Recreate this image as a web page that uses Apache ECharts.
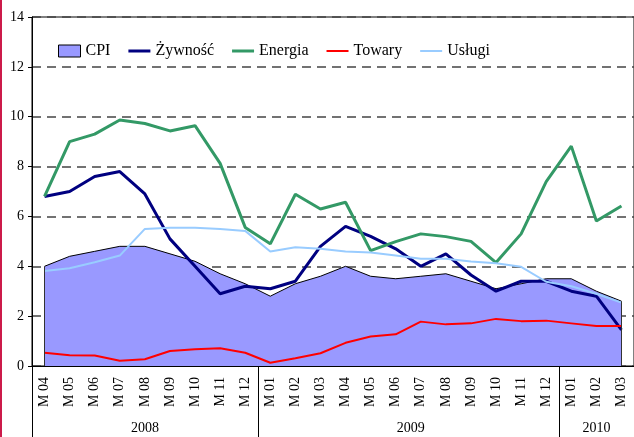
<!DOCTYPE html>
<html>
<head>
<meta charset="utf-8">
<script src="https://cdn.jsdelivr.net/npm/echarts@6/dist/echarts.min.js"></script>
<style>
html, body { margin: 0; padding: 0; background: #fff; }
#main { width: 634px; height: 437px; }
</style>
</head>
<body>
<div id="main"></div>
<script>
// miesiace od 2008 M04 do 2010 M03
const months = ['M04', 'M05', 'M06', 'M07', 'M08', 'M09', 'M10', 'M11', 'M12',
  'M01', 'M02', 'M03', 'M04', 'M05', 'M06', 'M07', 'M08', 'M09', 'M10', 'M11', 'M12',
  'M01', 'M02', 'M03'];
const years = ['2008', '2009', '2010'];
const yearStart = [0, 9, 21];
const yearLen = [9, 12, 3];
const yTicks = [0, 2, 4, 6, 8, 10, 12, 14];

const cpi = [4.0, 4.4, 4.6, 4.8, 4.8, 4.5, 4.2, 3.7, 3.3,
  2.8, 3.3, 3.6, 4.0, 3.6, 3.5, 3.6, 3.7, 3.4, 3.1, 3.3, 3.5,
  3.5, 3.0, 2.6];
const zywnosc = [6.8, 7.0, 7.6, 7.8, 6.9, 5.1, 4.0, 2.9, 3.2,
  3.1, 3.4, 4.8, 5.6, 5.2, 4.7, 4.0, 4.5, 3.65, 3.0, 3.4, 3.4,
  3.0, 2.8, 1.45];
const energia = [6.8, 9.0, 9.3, 9.87, 9.73, 9.43, 9.64, 8.13, 5.56,
  4.9, 6.89, 6.3, 6.57, 4.63, 4.99, 5.3, 5.19, 5.0, 4.15, 5.3, 7.4,
  8.82, 5.82, 6.42];
const towary = [0.53, 0.43, 0.42, 0.21, 0.27, 0.6, 0.67, 0.71, 0.53,
  0.13, 0.31, 0.51, 0.93, 1.18, 1.27, 1.78, 1.67, 1.71, 1.89, 1.8, 1.82,
  1.71, 1.6, 1.6];
const uslugi = [3.81, 3.92, 4.16, 4.43, 5.5, 5.55, 5.55, 5.5, 5.42,
  4.59, 4.76, 4.7, 4.59, 4.55, 4.43, 4.3, 4.3, 4.19, 4.12, 3.98, 3.38,
  3.2, 2.9, 2.54];

const serif = 'Liberation Serif';

// gdzie pokazac etykiete roku (srodek grupy)
const yearLabelAt = {};
yearStart.forEach((s, k) => {
  yearLabelAt[s + Math.floor((yearLen[k] - 1) / 2)] = k;
});

// ikonki legendy - kreska
const thick = 'path://M0,0H22V3H0Z';
const thin = 'path://M0,0H22V2H0Z';

let myChart = echarts.init(document.getElementById('main'));
myChart.setOption({
  animation: false,
  backgroundColor: '#fff',
  graphic: [{
    type: 'rect',
    left: 0, top: 0,
    shape: { width: 2, height: 437 },
    style: { fill: '#cc1a4a' }
  }],
  grid: {
    left: 32, right: -6, top: 17, bottom: 71,
    show: true, borderColor: '#000', borderWidth: 1
  },
  legend: {
    left: 53, top: 38,
    itemWidth: 22, itemHeight: 12, itemGap: 18,
    symbolKeepAspect: true,
    textStyle: { fontFamily: serif, fontSize: 16, color: '#000' },
    data: [
      { name: 'CPI', icon: 'rect', itemStyle: { color: '#9999ff', borderColor: '#000', borderWidth: 1 } },
      { name: 'Żywność', icon: thick },
      { name: 'Energia', icon: thick },
      { name: 'Towary', icon: thin },
      { name: 'Usługi', icon: thin }
    ]
  },
  xAxis: [{
    type: 'category',
    data: months,
    boundaryGap: true,
    axisLine: { lineStyle: { color: '#000', width: 1 } },
    axisTick: { interval: 0, length: 39, lineStyle: { color: '#000' } },
    axisLabel: {
      interval: 0, rotate: 90, margin: 11,
      fontFamily: serif, fontSize: 14, color: '#000',
      formatter: v => v.charAt(0) + ' ' + v.slice(1)
    },
    splitLine: { show: false }
  }, {
    type: 'category',
    data: months,
    position: 'bottom',
    boundaryGap: true,
    axisLine: { show: false },
    axisTick: {
      show: true, length: 71, lineStyle: { color: '#000' },
      interval: idx => yearStart.indexOf(idx) >= 0
    },
    axisLabel: {
      margin: 55, fontFamily: serif, fontSize: 14, color: '#000',
      interval: idx => yearLabelAt[idx] !== undefined,
      formatter: (v, idx) => {
        const k = yearLabelAt[idx];
        if (k === undefined) return '';
        // parzysta liczba miesiecy -> etykieta na granicy
        return yearLen[k] % 2 === 0 ? '{b|' + years[k] + '}' : years[k];
      },
      rich: { b: { fontFamily: serif, fontSize: 14, color: '#000', padding: [0, 0, 0, 30] } }
    }
  }],
  yAxis: {
    type: 'value',
    min: yTicks[0], max: yTicks[yTicks.length - 1], interval: 2,
    axisLine: { show: true, lineStyle: { color: '#000' } },
    axisTick: { show: true, length: 4, lineStyle: { color: '#000' } },
    axisLabel: { margin: 8, fontFamily: serif, fontSize: 14, color: '#000' },
    splitLine: { lineStyle: { color: '#444', width: 1.5, type: [9, 6] } }
  },
  series: [{
    name: 'CPI',
    type: 'line',
    data: cpi,
    symbol: 'none',
    color: '#9999ff',
    lineStyle: { color: '#000', width: 1 },
    areaStyle: { color: '#9999ff', opacity: 1 },
    markLine: {
      silent: true, symbol: 'none', label: { show: false },
      lineStyle: { color: '#333', width: 1, type: 'solid' },
      data: [
        [{ coord: [0, 0] }, { coord: [0, cpi[0]] }],
        [{ coord: [cpi.length - 1, 0] }, { coord: [cpi.length - 1, cpi[cpi.length - 1]] }]
      ]
    }
  }, {
    name: 'Żywność',
    type: 'line',
    data: zywnosc,
    symbol: 'none',
    color: '#000080',
    lineStyle: { color: '#000080', width: 3 }
  }, {
    name: 'Energia',
    type: 'line',
    data: energia,
    symbol: 'none',
    color: '#339966',
    lineStyle: { color: '#339966', width: 3 }
  }, {
    name: 'Towary',
    type: 'line',
    data: towary,
    symbol: 'none',
    color: '#ff0000',
    lineStyle: { color: '#ff0000', width: 2 }
  }, {
    name: 'Usługi',
    type: 'line',
    data: uslugi,
    symbol: 'none',
    color: '#99ccff',
    lineStyle: { color: '#99ccff', width: 2 }
  }]
});
</script>
</body>
</html>
